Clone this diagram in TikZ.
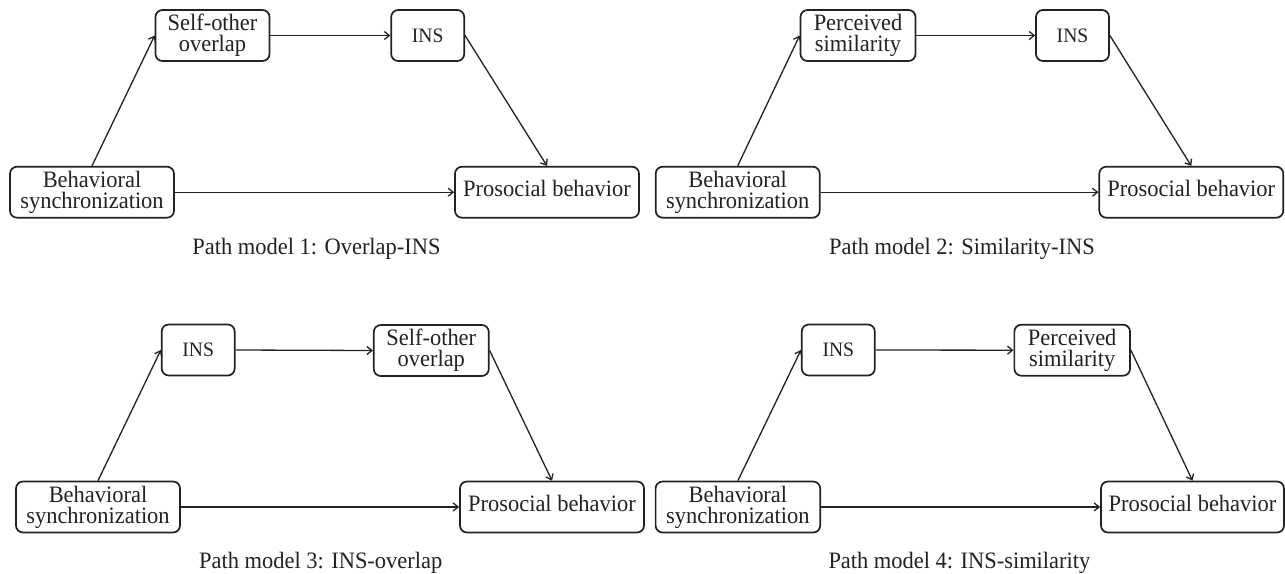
\documentclass[tikz,border=0pt]{standalone}
\usepackage{fontspec}
\setmainfont[FakeStretch=0.955]{Liberation Serif}
\usetikzlibrary{arrows.meta}
\definecolor{ink}{HTML}{222222}
\tikzset{
  txt/.style={font={\fontsize{23.5pt}{21pt}\selectfont}, text=ink},
  box/.style={txt, draw=ink, rounded corners=7pt, line width=1.7pt, align=center,
              minimum height=51pt, inner sep=0pt},
  small/.style={font={\fontsize{20.5pt}{21pt}\selectfont}},
  oneline/.style={text depth=7.5pt},
  link/.style={draw=ink, line width=1.3pt, -{Straight Barb[length=5pt,width=8pt]}},
  capt/.style={txt, anchor=base, inner sep=0pt}
}
\begin{document}
\begin{tikzpicture}[x=1pt, y=-1pt]
\useasboundingbox[fill=white] (0,0) rectangle (1285,573);
% Panel 1
\node[box, minimum width=114pt] (a1) at (212.5,35.5) {Self-other\\overlap};
\node[box, small, minimum width=73pt]  (b1) at (427.7,35.5) {INS};
\node[box, minimum width=164pt] (s1) at (92,192.2) {Behavioral\\synchronization};
\node[box, oneline, minimum width=184pt] (p1) at (547,192.2) {Prosocial behavior};
\node[capt] (c1) at (316.5,254) {Path model 1: Overlap-INS};
\draw[link] (s1.north) -- (a1.west);
\draw[link] (a1.east) -- (b1.west);
\draw[link] (b1.east) -- (p1.north);
\draw[link] (s1.east) -- (p1.west);
% Panel 2
\node[box, minimum width=115pt] (a2) at (858,35.5) {Perceived\\similarity};
\node[box, small, minimum width=73pt]  (b2) at (1072.5,35.5) {INS};
\node[box, minimum width=164pt] (s2) at (737.7,192.2) {Behavioral\\synchronization};
\node[box, oneline, minimum width=184pt] (p2) at (1191.3,192.2) {Prosocial behavior};
\node[capt] (c2) at (962,254) {Path model 2: Similarity-INS};
\draw[link] (s2.north) -- (a2.west);
\draw[link] (a2.east) -- (b2.west);
\draw[link] (b2.east) -- (p2.north);
\draw[link] (s2.east) -- (p2.west);
% Panel 3
\node[box, small, minimum width=73pt]  (a3) at (198.2,350) {INS};
\node[box, minimum width=115pt] (b3) at (431.3,350.5) {Self-other\\overlap};
\node[box, minimum width=164pt] (s3) at (98,507) {Behavioral\\synchronization};
\node[box, oneline, minimum width=184pt] (p3) at (552,507) {Prosocial behavior};
\node[capt] (c3) at (320.7,568.3) {Path model 3: INS-overlap};
\draw[link] (s3.north) -- (a3.west);
\draw[link] (a3.east) -- (b3.west);
\draw[link] (b3.east) -- (p3.north);
\draw[link] (s3.east) -- (p3.west);
% Panel 4
\node[box, small, minimum width=73pt]  (a4) at (838.3,350) {INS};
\node[box, minimum width=115.7pt] (b4) at (1072.2,350.2) {Perceived\\similarity};
\node[box, minimum width=164.6pt] (s4) at (737.9,507) {Behavioral\\synchronization};
\node[box, oneline, minimum width=183pt] (p4) at (1192.5,507) {Prosocial behavior};
\node[capt] (c4) at (959.4,568.3) {Path model 4: INS-similarity};
\draw[link] (s4.north) -- (a4.west);
\draw[link] (a4.east) -- (b4.west);
\draw[link] (b4.east) -- (p4.north);
\draw[link] (s4.east) -- (p4.west);
\end{tikzpicture}
\end{document}
